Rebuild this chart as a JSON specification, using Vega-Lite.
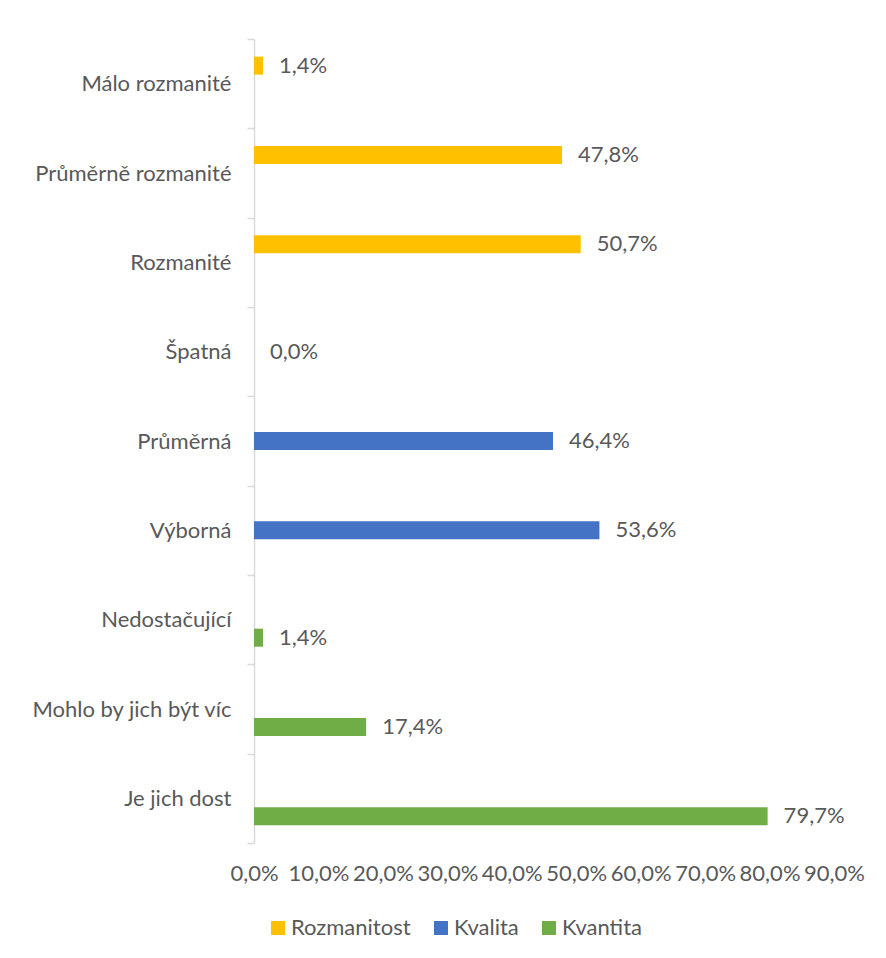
{
  "$schema": "https://vega.github.io/schema/vega-lite/v6.json",
  "width": 580,
  "height": 804,
  "autosize": {"type": "none"},
  "padding": {"left": 254, "top": 39, "right": 52, "bottom": 115},
  "config": {
    "locale": {"number": {"decimal": ",", "thousands": " ", "grouping": [3], "currency": ["", " Kč"]}},
    "view": {"stroke": null},
    "font": "Lato"
  },
  "data": {
    "values": [
      {"kategorie": "Málo rozmanité", "serie": "Rozmanitost", "hodnota": 0.014},
      {"kategorie": "Průměrně rozmanité", "serie": "Rozmanitost", "hodnota": 0.478},
      {"kategorie": "Rozmanité", "serie": "Rozmanitost", "hodnota": 0.507},
      {"kategorie": "Špatná", "serie": "Kvalita", "hodnota": 0.0},
      {"kategorie": "Průměrná", "serie": "Kvalita", "hodnota": 0.464},
      {"kategorie": "Výborná\u00a0", "serie": "Kvalita", "hodnota": 0.536},
      {"kategorie": "Nedostačující", "serie": "Kvantita", "hodnota": 0.014},
      {"kategorie": "Mohlo by jich být víc", "serie": "Kvantita", "hodnota": 0.174},
      {"kategorie": "Je jich dost", "serie": "Kvantita", "hodnota": 0.797}
    ]
  },
  "encoding": {
    "y": {
      "field": "kategorie",
      "type": "nominal",
      "sort": null,
      "scale": {"paddingInner": 0, "paddingOuter": 0},
      "axis": {
        "title": null,
        "tickBand": "extent",
        "domainColor": "#d9d9d9",
        "domainWidth": 1.5,
        "tickColor": "#d9d9d9",
        "tickWidth": 1.5,
        "tickSize": 7,
        "labelPadding": 16,
        "labelFontSize": 22,
        "labelColor": "#595959",
        "labelLimit": 300
      }
    },
    "yOffset": {
      "field": "serie",
      "type": "nominal",
      "scale": {"domain": ["Rozmanitost", "Kvalita", "Kvantita"], "paddingInner": 0, "paddingOuter": 0.98}
    },
    "x": {
      "field": "hodnota",
      "type": "quantitative",
      "scale": {"domain": [0, 0.9], "nice": false},
      "axis": {
        "title": null,
        "format": ".1%",
        "values": [0, 0.1, 0.2, 0.3, 0.4, 0.5, 0.6, 0.7, 0.8, 0.9],
        "domain": false,
        "ticks": false,
        "grid": false,
        "labelFontSize": 22,
        "labelColor": "#595959",
        "labelPadding": 20,
        "labelFlush": false
      }
    }
  },
  "layer": [
    {
      "mark": {"type": "bar"},
      "encoding": {
        "color": {
          "field": "serie",
          "type": "nominal",
          "scale": {"domain": ["Rozmanitost", "Kvalita", "Kvantita"], "range": ["#FFC000", "#4472C4", "#70AD47"]},
          "legend": {
            "orient": "none",
            "legendX": 13,
            "legendY": 878,
            "direction": "horizontal",
            "title": null,
            "symbolType": "square",
            "symbolSize": 196,
            "symbolStrokeWidth": 0,
            "labelFontSize": 22,
            "labelColor": "#595959",
            "labelOffset": 2,
            "columnPadding": 19
          }
        }
      }
    },
    {
      "mark": {"type": "text", "align": "left", "baseline": "middle", "dx": 16, "fontSize": 22, "color": "#595959"},
      "encoding": {
        "text": {"field": "hodnota", "type": "quantitative", "format": ".1%"}
      }
    }
  ]
}
